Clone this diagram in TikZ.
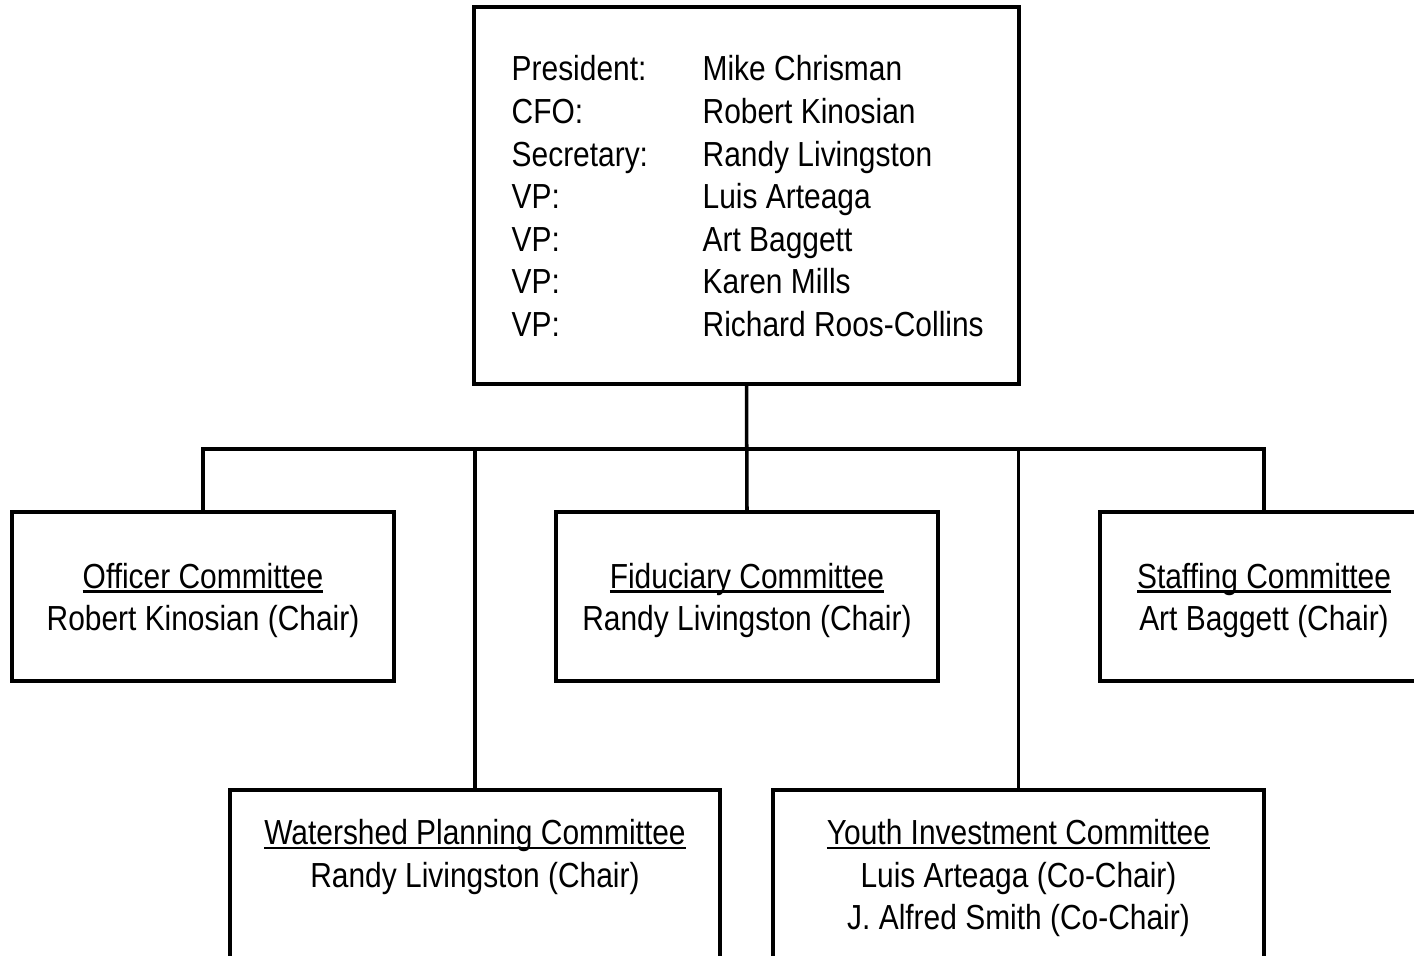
\documentclass[tikz,border=0pt]{standalone}
\usepackage{fontspec}
\setmainfont{Liberation Sans}[FakeStretch=0.86]
\newcommand{\cname}[1]{\leavevmode\setbox0\hbox{#1}\rlap{\rule[-0.13em]{\wd0}{0.08em}}\box0}

\begin{document}
\begin{tikzpicture}[
    box/.style={draw, line width=1pt, inner sep=0pt},
    link/.style={line width=1pt},
    txt/.style={align=center, inner sep=0pt, font=\fontsize{9.9}{12.1}\selectfont}]
  \useasboundingbox (0,0) rectangle (14.14,-9.56);
  \clip (0,0) rectangle (14.14,-9.56);
  % officers
  \node[box, minimum width=5.45cm, minimum height=3.77cm] (board) at (7.465,-1.955) {};
  \node[txt, anchor=base west] (officers) at (5.11,-0.81)
    {\begin{tabular}[t]{@{}p{1.91cm}@{}l@{}}
      President: & Mike Chrisman\\
      CFO: & Robert Kinosian\\
      Secretary: & Randy Livingston\\
      VP: & Luis Arteaga\\
      VP: & Art Baggett\\
      VP: & Karen Mills\\
      VP: & Richard Roos-Collins
    \end{tabular}};
  % committees, first row
  \node[box, minimum width=3.82cm, minimum height=1.69cm] (officer) at (2.03,-5.965) {};
  \node[txt, anchor=north] (officer-txt) at ([yshift=-0.52cm]officer.north)
    {\cname{Officer Committee}\\Robert Kinosian (Chair)};
  \node[box, minimum width=3.82cm, minimum height=1.69cm] (fiduciary) at (7.47,-5.965) {};
  \node[txt, anchor=north] (fiduciary-txt) at ([yshift=-0.52cm]fiduciary.north)
    {\cname{Fiduciary Committee}\\Randy Livingston (Chair)};
  \node[box, minimum width=3.28cm, minimum height=1.69cm] (staffing) at (12.64,-5.965) {};
  \node[txt, anchor=north] (staffing-txt) at ([yshift=-0.52cm]staffing.north)
    {\cname{Staffing Committee}\\Art Baggett (Chair)};
  % committees, second row
  \node[box, minimum width=4.9cm, minimum height=2.2cm, anchor=north] (watershed) at (4.75,-7.88) {};
  \node[txt, anchor=north] (watershed-txt) at ([yshift=-0.31cm]watershed.north)
    {\cname{Watershed Planning Committee}\\Randy Livingston (Chair)};
  \node[box, minimum width=4.91cm, minimum height=2.2cm, anchor=north] (youth) at (10.185,-7.88) {};
  \node[txt, anchor=north] (youth-txt) at ([yshift=-0.31cm]youth.north)
    {\cname{Youth Investment Committee}\\Luis Arteaga (Co-Chair)\\J. Alfred Smith (Co-Chair)};
  % connectors
  \coordinate (bus) at (7.465,-4.49);
  \draw[link] (board.south) -- (fiduciary.north);
  \draw[link] (officer.north) |- (bus) -| (staffing.north);
  \draw[link] (watershed.north) -- (watershed.north |- bus);
  \draw[link] (youth.north) -- (youth.north |- bus);
\end{tikzpicture}
\end{document}
